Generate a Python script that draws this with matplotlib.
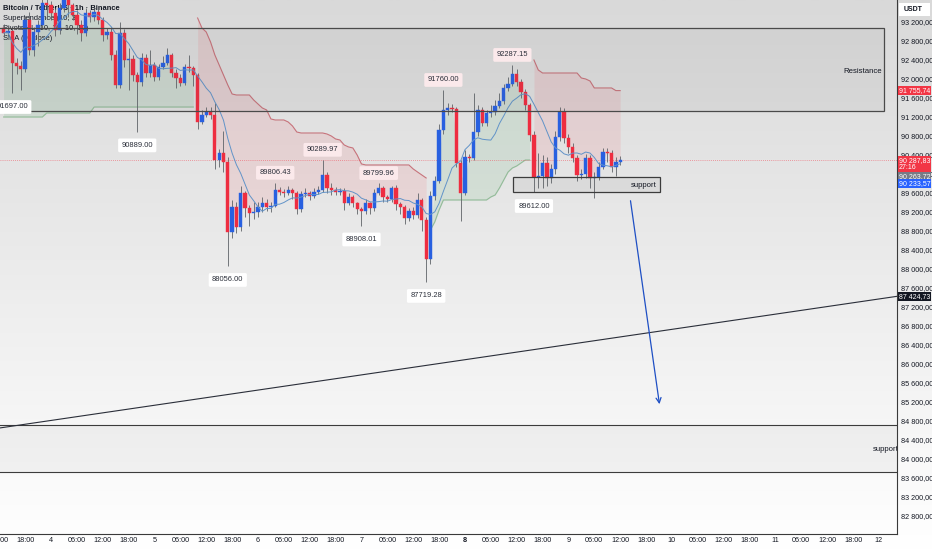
import numpy as np
import pandas as pd
import matplotlib
matplotlib.use("Agg")
import matplotlib.pyplot as plt
from matplotlib.patches import Rectangle
from matplotlib.colors import LinearSegmentedColormap
from matplotlib.transforms import blended_transform_factory, offset_copy

plt.rcParams['font.family'] = ['Liberation Sans', 'DejaVu Sans']

# BTC/USDT 1h candles, hour index counted from Dec 4 00:00
hours = list(range(-11, 133))
first_open = 93074
closes = [
    92968, 93010, 92337, 92274, 92211, 93242, 92611, 92989, 93137, 93600, 93558,
    93389, 93032, 93495, 93663, 93558, 93347, 93137, 92968, 93389, 93305, 93410,
    93242, 92926, 92989, 92505, 91874, 92968, 92400, 92421, 92084, 91937, 92442,
    92126, 92295, 92042, 92253, 92337, 92505, 92126, 92021, 91916, 92253, 92232,
    92084, 91095, 91242, 91305, 91242, 90295, 90442, 90253, 88780, 89306, 88885,
    89600, 89285, 89179, 89200, 89306, 89390, 89306, 89327, 89664, 89621, 89600,
    89664, 89600, 89264, 89579, 89600, 89537, 89621, 89664, 89979, 89705, 89664,
    89621, 89642, 89390, 89516, 89390, 89264, 89221, 89390, 89285, 89600, 89705,
    89516, 89474, 89705, 89369, 89306, 89074, 89221, 89137, 89453, 89032, 88211,
    89537, 89853, 90927, 91348, 91390, 91369, 90232, 89600, 90358, 90337, 90884,
    91348, 91074, 91284, 91305, 91432, 91537, 91811, 91895, 92105, 91937, 91726,
    91453, 90821, 89937, 89958, 90232, 89916, 90105, 90779, 91305, 90758, 90569,
    90337, 89979, 89990, 90337, 89916, 89937, 90148, 90463, 90450, 90148, 90253,
    90287.83,
]
highs = [
    93150, 93120, 93080, 92450, 92380, 93330, 93400, 93100, 93250, 93700, 93700,
    93650, 93500, 93600, 93750, 93750, 93600, 93450, 93250, 93500, 93450, 93480,
    93470, 93300, 93080, 93100, 92600, 93200, 93050, 92650, 92500, 92150, 92550,
    92520, 92600, 92350, 92320, 92480, 92650, 92550, 92200, 92100, 92320, 92500,
    92280, 92120, 91350, 91400, 91400, 91500, 90520, 90900, 90350, 89450, 89400,
    89750, 89650, 89350, 89400, 89420, 89520, 89480, 89400, 89806.43, 89720, 89680,
    89750, 89700, 89650, 89650, 89700, 89650, 89700, 89750, 90289.97, 90050, 89800,
    89720, 89700, 89700, 89600, 89550, 89420, 89300, 89480, 89420, 89680, 89799.96,
    89750, 89560, 89750, 89760, 89420, 89350, 89280, 89300, 89600, 89500, 89100,
    89650, 89950, 91050, 91760, 91500, 91480, 91420, 90300, 90500, 90420, 91700,
    91450, 91400, 91350, 91450, 91550, 91700, 91900, 92050, 92287.15, 92200, 92000,
    91780, 91500, 90900, 90450, 90400, 90350, 90200, 90900, 91400, 91380, 90850,
    90650, 90400, 90100, 90420, 90400, 90050, 90250, 90550, 90550, 90500, 90350,
    90380,
]
lows = [
    92880, 92900, 91697.00, 92100, 91770, 92150, 92500, 92480, 92700, 93050, 93300,
    93250, 92900, 92950, 93400, 93300, 93250, 92950, 92800, 92900, 93200, 93220,
    93150, 92800, 92850, 92400, 91800, 91800, 92250, 91770, 91950, 90889.00, 91850,
    92050, 92050, 91950, 91980, 92200, 92300, 92050, 91800, 91850, 91880, 92150,
    91850, 90950, 91050, 91200, 91150, 90100, 90150, 90050, 88056.00, 88650, 88750,
    88800, 89100, 88900, 89050, 89100, 89200, 89220, 89200, 89300, 89560, 89520,
    89550, 89480, 89150, 89200, 89520, 89450, 89500, 89580, 89620, 89600, 89550,
    89550, 89560, 89250, 89350, 89300, 89150, 88908.01, 89150, 89150, 89230, 89550,
    89420, 89400, 89420, 89250, 89150, 88950, 89000, 89050, 89080, 88800, 87719.28,
    88100, 89450, 89800, 90850, 91250, 91300, 90150, 89000, 89550, 90250, 90300,
    90800, 91000, 91000, 91200, 91250, 91380, 91480, 91750, 91850, 91850, 91600,
    91350, 90700, 89612.00, 89700, 89700, 89750, 89800, 90000, 90700, 90650, 90450,
    90250, 89850, 89900, 89920, 89700, 89500, 89880, 90100, 90250, 90050, 89950,
    90180,
]

# Supertrend (10, 3), one list per trend leg
st_up1_hours = list(range(-11, 34))
st_up1 = [91200] * 10 + [91284] * 11 + [91410] * 24
st_dn1_hours = list(range(34, 88))
st_dn1 = [93284, 93074, 92989, 92779, 92505, 92295, 92084, 91874, 91684, 91663,
          91663, 91663, 91663, 91558, 91474, 91390, 91348, 91158, 91137, 91137,
          91137, 91095, 91011, 90884, 90863, 90863, 90863, 90863, 90863, 90863,
          90842, 90800, 90737, 90716, 90611, 90569, 90548, 90400, 90211,
          90190, 90190, 90190, 90190, 90190, 90190, 90190, 90190, 90190, 90190, 90190,
          90106, 90042, 89979, 89916]
st_up2_hours = list(range(88, 112))
st_up2 = [88822, 88990, 89243, 89453, 89453, 89453, 89453, 89453, 89453, 89453,
          89453, 89453, 89453, 89453, 89516, 89558, 89705, 89874, 90042, 90127,
          90169, 90232, 90295, 90295]
st_dn2_hours = list(range(112, 133))
st_dn2 = [92400, 92190, 92126, 92126, 92126, 92126, 92126, 92126, 92126, 92126,
          92126, 92021, 92000, 91958, 91811, 91811, 91811, 91811, 91811, 91755.74,
          91755.74]

# Pivots HL labels
pivot_hours = [-9, 20, 41, 52, 63, 72, 76, 87, 91, 107, 112]
pivot_prices = [91697.00, 90889.00, 88056.00, 89806.43, 90289.97, 88908.01,
                89799.96, 87719.28, 91760.00, 92287.15, 89612.00]
pivot_kinds = ['L', 'L', 'L', 'H', 'H', 'L', 'H', 'L', 'H', 'H', 'L']

# drawings
resistance_zone = (91326, 93074)
support_small = (89621, 89937)
support_big = (83728, 84717)
trend_start = (-11.83, 84654)
trend_end = (196.2, 87424.73)
arrow_from = (134.3, 89495)
arrow_to = (141.2, 85096)

# right axis tags: price, text, colour, pixel shift
price_tags = [
    (91755.74, '91 755,74', '#f23645', 0),
    (90287.83, '90 287,83\n27:16', '#f23645', -4),
    (90263.72, '90 263,72', '#787b86', -15),
    (90233.57, '90 233,57', '#2962ff', -20.5),
    (87424.73, '87 424,73', '#131722', 0),
]

UP = '#2860e0'
DOWN = '#ee2d40'
WICK = '#5f6368'

opens = [first_open] + closes[:-1]
t = np.array(hours)
o = np.array(opens, dtype=float)
c = np.array(closes, dtype=float)
h = np.array(highs, dtype=float)
l = np.array(lows, dtype=float)
mid = (o + c) / 2
sma = pd.Series(c).rolling(9, min_periods=1).mean()

fig = plt.figure(figsize=(9.32, 5.5), dpi=100)

# background gradient
bg = fig.add_axes([0, 0, 1, 1], zorder=-10)
cmap = LinearSegmentedColormap.from_list('bg', ['#d9d9d9', '#ffffff'])
bg.imshow(np.linspace(0, 1, 256)[:, None], cmap=cmap, aspect='auto', extent=[0, 1, 0, 1])
bg.axis('off')

ax = fig.add_axes([0, 16 / 550, 897 / 932, 534 / 550])
ax.set_facecolor('none')
ax.set_xlim(-11.83, 196.2)
ax.set_ylim(82421, 93663)

# supertrend fills and lines
legs = [(st_up1_hours, st_up1, '#2e9e48', '#93bb99'),
        (st_dn1_hours, st_dn1, '#f23645', '#c7737b'),
        (st_up2_hours, st_up2, '#2e9e48', '#93bb99'),
        (st_dn2_hours, st_dn2, '#f23645', '#c7737b')]
for lh, lv, fcol, lcol in legs:
    idx = [hours.index(x) for x in lh]
    ax.fill_between(lh, lv, mid[idx], color=fcol, alpha=0.1, lw=0, zorder=1)
    ax.plot(lh, lv, color=lcol, lw=0.8, zorder=1.5)

# candles
colors = [UP if cc >= oo else DOWN for oo, cc in zip(o, c)]
ax.vlines(t, l, h, color=WICK, lw=0.6, zorder=3)
body = np.maximum(np.abs(c - o), 12)
ax.bar(t, body, bottom=np.minimum(o, c), width=0.76, color=colors,
       edgecolor=colors, lw=0.3, zorder=4)

ax.plot(t, sma, color='#6193c8', lw=0.7, zorder=5)

# last price line
ax.axhline(closes[-1], color='#f23645', lw=0.6, ls=(0, (1, 1.5)), alpha=0.6, zorder=2)

# zones
ax.add_patch(Rectangle((-20, resistance_zone[0]), 193.2 + 20, resistance_zone[1] - resistance_zone[0],
                       fc=(0.3, 0.3, 0.3, 0.06), ec='#4a4a4a', lw=0.9, zorder=6))
ax.text(192.7, 92168, 'Resistance', ha='right', va='center', fontsize=5.6, color='#131722', zorder=7)

ax.add_patch(Rectangle((107.1, support_small[0]), 141.2 - 107.1, support_small[1] - support_small[0],
                       fc=(0.3, 0.3, 0.3, 0.07), ec='#3c3c3c', lw=0.9, zorder=6))
ax.text(140.4, 89768, 'support', ha='right', va='center', fontsize=5.6, color='#131722', zorder=7)

ax.add_patch(Rectangle((-20, support_big[0]), 260, support_big[1] - support_big[0],
                       fc=(0.3, 0.3, 0.3, 0.05), ec='#3c3c3c', lw=0.8, zorder=6))
ax.text(190.6, 84191, 'support', ha='left', va='center', fontsize=5.6, color='#131722',
        zorder=7, clip_on=True)

# trendline and arrow
ax.plot([trend_start[0], trend_end[0]], [trend_start[1], trend_end[1]], color='#2a2e39', lw=0.8, zorder=6)
ax.annotate('', xy=arrow_to, xytext=arrow_from,
            arrowprops=dict(arrowstyle='->', color='#1e4fc4', lw=0.9, mutation_scale=9), zorder=7)

# pivot labels
for ph, pp, pk in zip(pivot_hours, pivot_prices, pivot_kinds):
    dy = 7.5 if pk == 'H' else -9.8
    fc = '#fbe9eb' if pk == 'H' else '#ffffff'
    ax.annotate(f'{pp:.2f}', xy=(ph, pp), xytext=(0, dy), textcoords='offset points',
                ha='center', va='center', fontsize=5.4, color='#2a2e39', zorder=8,
                bbox=dict(boxstyle='round,pad=0.45,rounding_size=0.2', fc=fc, ec='none'))

# legend lines
legend_lines = ['Bitcoin / TetherUS · 1h · Binance', 'Supertendance (10, 3)',
                'Pivots HL (10, 10, 10, 10)', 'SMA (9, close)']
for i, s in enumerate(legend_lines):
    ax.text(3 / 897, 1 - (8 + 10 * i) / 534, s, transform=ax.transAxes, fontsize=5.4,
            color='#131722', va='center', ha='left', zorder=2,
            fontweight='bold' if i == 0 else 'normal')

# axes styling
for side in ['top', 'left']:
    ax.spines[side].set_visible(False)
for side in ['right', 'bottom']:
    ax.spines[side].set_color('#3a3a3a')
    ax.spines[side].set_linewidth(0.8)
ax.set_xticks([])
ax.yaxis.tick_right()
yt = np.arange(82800, 93201, 400)
ax.set_yticks(yt)
ax.set_yticklabels([f'{v // 1000} {v % 1000:03d},00' for v in yt])
ax.tick_params(axis='y', length=0, pad=3, labelsize=5.2, labelcolor='#131722')

# time labels
tb = blended_transform_factory(ax.transData, ax.transAxes)
stamps = pd.date_range('2025-12-03 12:00', '2025-12-12 00:00', freq='6h')
for k, ts in enumerate(stamps):
    th = -12 + 6 * k
    lab = str(ts.day) if ts.hour == 0 else ts.strftime('%H:%M')
    ax.text(th, -7 / 534, lab, transform=tb, ha='center', va='center', fontsize=5.2,
            color='#131722', clip_on=False,
            fontweight='bold' if lab == '8' else 'normal')

# price tags on the axis
for price, lab, col, shift in price_tags:
    tr = offset_copy(blended_transform_factory(ax.transAxes, ax.transData), fig=fig,
                     x=0, y=shift * 0.72, units='points')
    ax.text(1 + 2 / 897, price, lab, transform=tr, ha='left', va='center', fontsize=5.0,
            color='white', clip_on=False, zorder=9, linespacing=1.05,
            bbox=dict(boxstyle='square,pad=0.12', fc=col, ec='none'))

# currency box
fig.patches.append(Rectangle((899 / 932, 1 - 16 / 550), 31 / 932, 13 / 550,
                             transform=fig.transFigure, fc='white', ec='none'))
fig.text(904 / 932, 1 - 9.5 / 550, 'USDT', fontsize=5.0, fontweight='bold',
         color='#131722', va='center', ha='left')

fig.savefig('out.png', dpi=100)
